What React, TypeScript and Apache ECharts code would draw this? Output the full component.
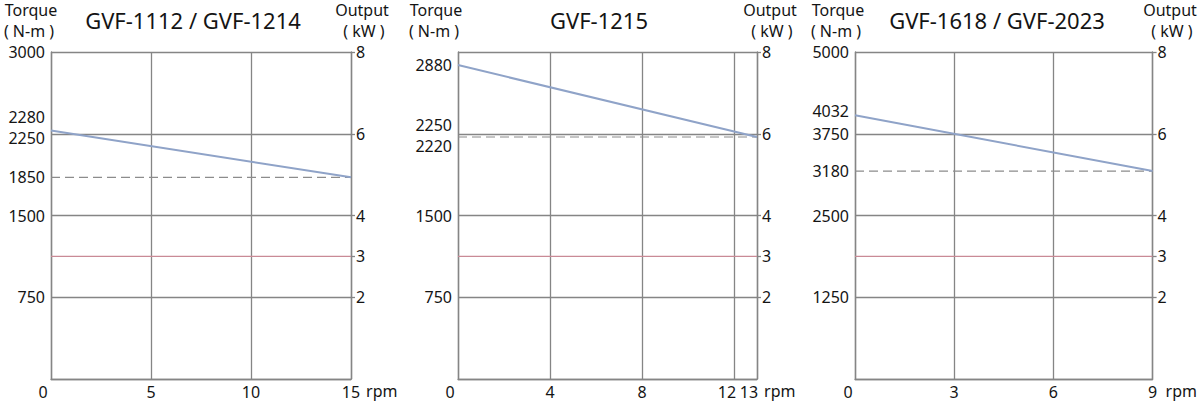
import { useEffect, useRef } from "react";
import * as echarts from "echarts";

const modelNames = ["GVF-1112 / GVF-1214", "GVF-1215", "GVF-1618 / GVF-2023"];
const maxSpeed = [15, 13, 9];
const speedStep = [5, 4, 3];
const torqueMax = [3000, 3000, 5000];
const torqueStep = [750, 750, 1250];
const torqueStart = [2280, 2880, 4032];
const torqueEnd = [1850, 2220, 3180];
const outputMax = 8;
const outputRated = 3;
const outputTicks = [2, 3, 4, 6, 8];

// layout, px
const gridLeft = [51, 458, 855];
const gridWidth = [300, 299, 299];
const gridTop = 52;
const gridHeight = 327;
const titleX = [193, 599, 997];
const torqueX = [31, 436, 838];
const outputX = [362, 770, 1170];
const rpmGap = [11, 1, 13];
// label nudges (negative = up / left)
const torqueNudge: Record<number, number>[] = [
  { 2280: -13, 2250: 4 },
  { 2250: -9, 2220: 9 },
  { 4032: -4 },
];
const speedNudge: Record<number, number>[] = [{ 0: -8 }, { 0: -8, 12: -7, 13: -8 }, { 0: -7 }];

const GRID = "#858585";
const TEXT = "#141414";
const FONT = "Noto Sans";

function richFor(nudges: Record<number, number>, vertical: boolean) {
  const rich: Record<string, object> = {};
  Object.entries(nudges).forEach(([v, d]) => {
    const p = Math.abs(d) * 2;
    rich["n" + v] = {
      fontFamily: FONT,
      fontSize: 16,
      color: TEXT,
      padding: vertical ? (d < 0 ? [0, 0, p, 0] : [p, 0, 0, 0]) : d < 0 ? [0, p, 0, 0] : [0, 0, 0, p],
    };
  });
  return rich;
}

function nudgeFormatter(nudges: Record<number, number>) {
  return (v: number) => (nudges[v] !== undefined ? `{n${v}|${v}}` : String(v));
}

function buildOption() {
  const grid: object[] = [];
  const xAxis: object[] = [];
  const yAxis: object[] = [];
  const series: object[] = [];
  const graphic: object[] = [];

  modelNames.forEach((name, i) => {
    grid.push({ left: gridLeft[i], width: gridWidth[i], top: gridTop, height: gridHeight, show: false });

    xAxis.push({
      type: "value",
      gridIndex: i,
      min: 0,
      max: maxSpeed[i],
      interval: speedStep[i],
      name: "rpm",
      nameLocation: "end",
      nameGap: rpmGap[i],
      nameTextStyle: { fontFamily: FONT, fontSize: 16, color: TEXT, align: "left", verticalAlign: "top", padding: [4, 0, 0, 0] },
      axisLine: { show: true, lineStyle: { color: GRID, width: 1.4 } },
      axisTick: { show: false },
      axisLabel: {
        margin: 5,
        fontFamily: FONT,
        fontSize: 16,
        color: TEXT,
        formatter: nudgeFormatter(speedNudge[i]),
        rich: richFor(speedNudge[i], false),
      },
      splitLine: { show: true, lineStyle: { color: GRID, width: 1.3 } },
    });

    const labelValues = Array.from(
      new Set([
        ...Array.from({ length: torqueMax[i] / torqueStep[i] }, (_, k) => (k + 1) * torqueStep[i]),
        torqueStart[i],
        torqueEnd[i],
      ])
    ).sort((a, b) => a - b);

    yAxis.push({
      type: "value",
      gridIndex: i,
      position: "left",
      min: 0,
      max: torqueMax[i],
      interval: torqueStep[i],
      axisLine: { show: true, lineStyle: { color: GRID, width: 1.4 } },
      axisTick: { show: false },
      axisLabel: {
        customValues: labelValues,
        margin: 6,
        fontFamily: FONT,
        fontSize: 16,
        color: TEXT,
        formatter: nudgeFormatter(torqueNudge[i]),
        rich: richFor(torqueNudge[i], true),
      },
      splitLine: { show: true, lineStyle: { color: GRID, width: 1.3 } },
    });

    yAxis.push({
      type: "value",
      gridIndex: i,
      position: "right",
      min: 0,
      max: outputMax,
      axisLine: { show: true, lineStyle: { color: GRID, width: 1.4 } },
      axisTick: { show: true, customValues: outputTicks, length: 4, lineStyle: { color: GRID, width: 1.3 } },
      axisLabel: { customValues: outputTicks, margin: 5, fontFamily: FONT, fontSize: 16, color: TEXT },
      splitLine: { show: false },
    });

    series.push({
      type: "line",
      xAxisIndex: i,
      yAxisIndex: 2 * i + 1,
      data: [
        [0, outputRated],
        [maxSpeed[i], outputRated],
      ],
      symbol: "none",
      silent: true,
      lineStyle: { color: "#c98a96", width: 1.3 },
    });
    series.push({
      type: "line",
      xAxisIndex: i,
      yAxisIndex: 2 * i,
      data: [
        [0, torqueEnd[i]],
        [maxSpeed[i], torqueEnd[i]],
      ],
      symbol: "none",
      silent: true,
      lineStyle: { color: "#8c8c8c", width: 1.2, type: [9, 5] },
    });
    series.push({
      type: "line",
      xAxisIndex: i,
      yAxisIndex: 2 * i,
      data: [
        [0, torqueStart[i]],
        [maxSpeed[i], torqueEnd[i]],
      ],
      symbol: "none",
      silent: true,
      lineStyle: { color: "#8fa3c8", width: 2 },
    });

    const textStyle = (text: string, size: number) => ({
      text,
      fontFamily: FONT,
      fontSize: size,
      fill: TEXT,
      align: "center",
      verticalAlign: "middle",
    });
    graphic.push({ type: "text", x: titleX[i], y: 20, style: textStyle(name, 22) });
    graphic.push({ type: "text", x: torqueX[i], y: 10, style: textStyle("Torque", 16) });
    graphic.push({ type: "text", x: torqueX[i] - 2, y: 31, style: textStyle("( N-m )", 16) });
    graphic.push({ type: "text", x: outputX[i], y: 10, style: textStyle("Output", 16) });
    graphic.push({ type: "text", x: outputX[i] + 2, y: 31, style: textStyle("( kW )", 16) });
  });

  return { animation: false, backgroundColor: "#ffffff", grid, xAxis, yAxis, series, graphic };
}

export default function App() {
  const ref = useRef<HTMLDivElement>(null);

  useEffect(() => {
    document.body.style.margin = "0";
    const el = ref.current;
    if (!el) return;
    const chart = echarts.init(el, undefined, { renderer: "svg" });
    chart.setOption(buildOption());
    return () => chart.dispose();
  }, []);

  return <div ref={ref} style={{ width: 1200, height: 403 }} />;
}
